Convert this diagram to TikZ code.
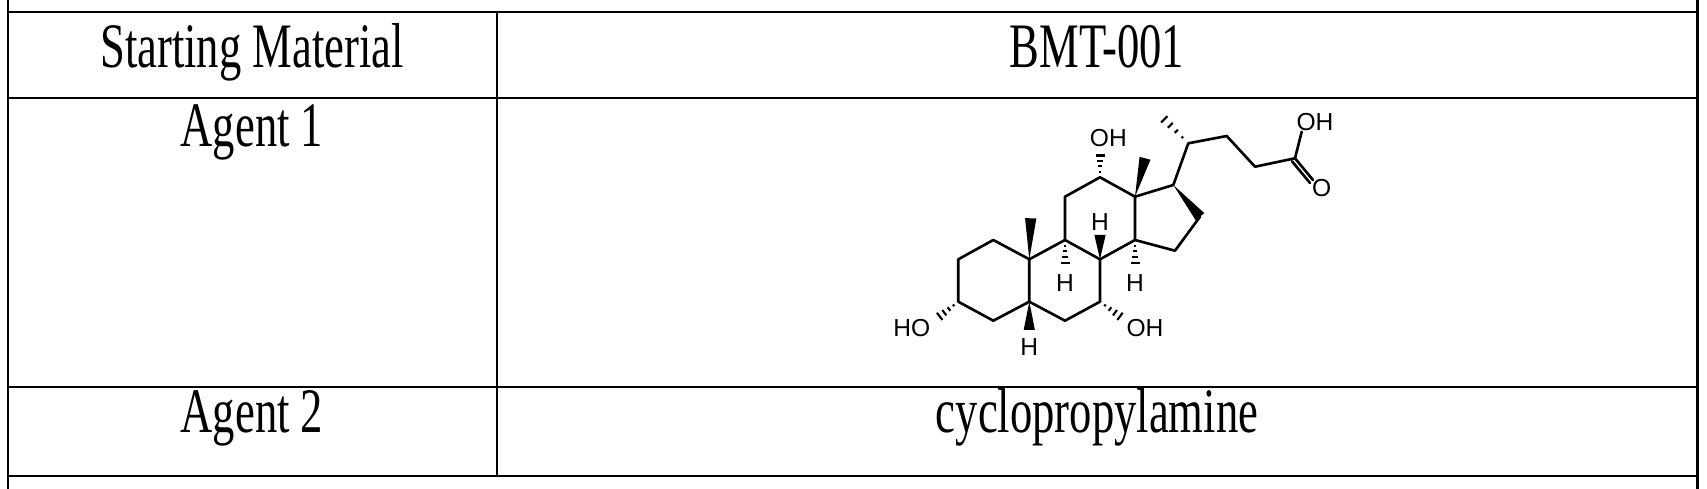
\documentclass[tikz,border=0pt]{standalone}
\usepackage{fontspec}
\setmainfont{Liberation Serif}
\newfontfamily\chemfont{Liberation Sans}
\usetikzlibrary{calc}
\tikzset{
 cell/.style={anchor=base,inner sep=0pt,font=\fontsize{25.4}{28}\selectfont},
 lbl/.style={inner sep=0pt,font=\chemfont\fontsize{14}{16}\selectfont},
 grid/.style={line width=1.7pt},
 bond/.style={line width=1.5pt,line cap=round,line join=round}
}
\newcommand\stretchy[1]{\scalebox{1}[1.42]{#1}}
\newcommand\wdg[2]{\fill (#1) -- ($(#2)!3.2pt!90:(#1)$) -- ($(#2)!3.2pt!-90:(#1)$) -- cycle;}
\newcommand\hsh[2]{\foreach \t in {0.2,0.4,0.6,0.8,1.0}{\path ($(#1)!\t!(#2)$) coordinate (hp); \draw[line width=1.2pt] ($(hp)!{\t*3.2pt}!90:(#2)$) -- ($(hp)!{\t*3.2pt}!-90:(#2)$);}}
\begin{document}
\begin{tikzpicture}[x=0.02cm,y=-0.02cm]
\useasboundingbox (0,0) rectangle (1707,489);
% table
\draw[grid] (8,0) -- (8,489);
\draw[grid] (1697,0) -- (1697,489);
\draw[grid] (497,12) -- (497,476);
\foreach \yy in {12,98,387,476} \draw[grid] (8,\yy) -- (1697,\yy);
\node[cell] (t1) at (252,68) {\stretchy{Starting Material}};
\node[cell] (t2) at (1097,68) {\stretchy{BMT-001}};
\node[cell] (t3) at (252,147) {\stretchy{Agent 1}};
\node[cell] (t4) at (252,433) {\stretchy{Agent 2}};
\node[cell] (t5) at (1097,433) {\stretchy{cyclopropylamine}};
% molecule
\coordinate (C1) at (993.3,240);
\coordinate (C2) at (958.3,259.3);
\coordinate (C3) at (958.3,301.7);
\coordinate (C4) at (993.3,320.7);
\coordinate (C5) at (1029.3,301.7);
\coordinate (C10) at (1029.3,259.3);
\coordinate (C6) at (1065,320.7);
\coordinate (C7) at (1100,301.7);
\coordinate (C8) at (1100,259.3);
\coordinate (C9) at (1065,240);
\coordinate (C11) at (1065,196.7);
\coordinate (C12) at (1100,177.3);
\coordinate (C13) at (1135,196.7);
\coordinate (C14) at (1135,240);
\coordinate (C17) at (1173.3,185);
\coordinate (C16) at (1200,216.7);
\coordinate (C15) at (1175,250.7);
\coordinate (C20) at (1188.3,143.3);
\coordinate (C21) at (1158.3,113.3);
\coordinate (C22) at (1226.7,136);
\coordinate (C23) at (1255,166.7);
\coordinate (C24) at (1295,158.3);
\coordinate (C18) at (1145,158.3);
\coordinate (C19) at (1030.7,218.3);
\coordinate (H8) at (1100,235);
\coordinate (H9) at (1065,268.3);
\coordinate (H14) at (1135,268.3);
\coordinate (H5) at (1029.3,330);
\coordinate (O12) at (1100,150);
\coordinate (O3) at (935,320);
\coordinate (O7) at (1125,320);
\node[lbl] (lOH24) at (1315,121.7) {OH};
\node[lbl] (lO24) at (1321.7,188.3) {O};
\node[lbl] (lH8) at (1100,221.7) {H};
\node[lbl] (lH9) at (1065,283.3) {H};
\node[lbl] (lH14) at (1135,283.3) {H};
\node[lbl] (lH5) at (1029.3,346.7) {H};
\node[lbl] (lO12) at (1108.3,138.3) {OH};
\node[lbl] (lO3) at (911.7,328.3) {HO};
\node[lbl] (lO7) at (1145,328.3) {OH};
\draw[bond] (C1)--(C2)--(C3)--(C4)--(C5)--(C10)--cycle;
\draw[bond] (C5)--(C6)--(C7)--(C8)--(C9)--(C10);
\draw[bond] (C9)--(C11)--(C12)--(C13)--(C14)--(C8);
\draw[bond] (C14)--(C15)--(C16);
\draw[bond] (C13)--(C17)--(C20)--(C22)--(C23)--(C24);
\draw[bond] (C24)--(1301.7,131.7);
\draw[bond] (C24)--(1313,180);
\draw[bond] ($(C24)+(-3,3)$)--($(1313,180)+(-3,3)$);
\wdg{C13}{C18}
\wdg{C10}{C19}
\wdg{C8}{H8}
\wdg{C5}{H5}
\wdg{C17}{C16}
\hsh{C20}{C21}
\hsh{C9}{H9}
\hsh{C14}{H14}
\hsh{C12}{O12}
\hsh{C3}{O3}
\hsh{C7}{O7}
\end{tikzpicture}
\end{document}
